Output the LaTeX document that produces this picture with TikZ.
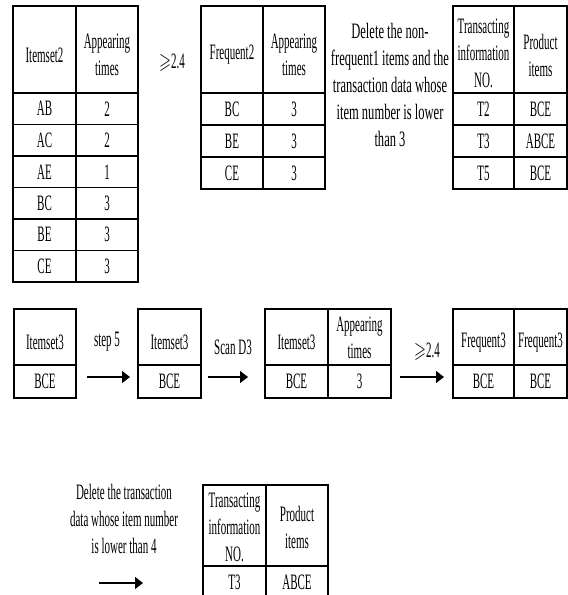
\documentclass[tikz,border=0pt]{standalone}
\usepackage{fontspec}
\usepackage{amssymb}
\usepackage{graphicx}
\setmainfont[FakeStretch=0.5]{Liberation Serif}
\newfontfamily\widefont[FakeStretch=0.57]{Liberation Serif}
\usetikzlibrary{arrows.meta}
\newcommand\mycell[6]{\node[cellbox, minimum width={(#4-#2)*1pt}, minimum height={(#5-#3)*1pt}] (#1) at ({(#2+#4)/2},{(#3+#5)/2}) {#6};}
\newcommand\myhead[7][5.5]{\node[cellbox, minimum width={(#5-#3)*1pt}, minimum height={(#6-#4)*1pt}] (#2) at ({(#3+#5)/2},{(#4+#6)/2}) {};
  \node[plain] (#2-t) at ({(#3+#5)/2},{(#4+#6)/2+#1}) {#7};}
\newcommand\geqs{\scalebox{0.7}[1]{$\geqslant$}}
\begin{document}
\begin{tikzpicture}[x=1pt,y=-1pt,
  cellbox/.style={draw, line width=1.3pt, inner sep=0pt, align=center, font=\fontsize{22}{27}\selectfont},
  plain/.style={inner sep=0pt, align=center, font=\fontsize{22}{27}\selectfont},
  flowarrow/.style={line width=1.4pt, -{Triangle[length=8pt,width=12pt]}}]
\useasboundingbox (0,0) rectangle (568,595);
\clip (0,0) rectangle (568,595);
% Table 1
\myhead{ah}{13}{6}{76}{93}{Itemset2}
\myhead{bh}{76}{6}{138}{93}{Appearing\\times}
\mycell{a1}{13}{93}{76}{124.5}{AB}
\mycell{b1}{76}{93}{138}{124.5}{2}
\mycell{a2}{13}{124.5}{76}{156}{AC}
\mycell{b2}{76}{124.5}{138}{156}{2}
\mycell{a3}{13}{156}{76}{187.5}{AE}
\mycell{b3}{76}{156}{138}{187.5}{1}
\mycell{a4}{13}{187.5}{76}{219}{BC}
\mycell{b4}{76}{187.5}{138}{219}{3}
\mycell{a5}{13}{219}{76}{250.5}{BE}
\mycell{b5}{76}{219}{138}{250.5}{3}
\mycell{a6}{13}{250.5}{76}{282}{CE}
\mycell{b6}{76}{250.5}{138}{282}{3}
\node[plain] (g1) at (172,63) {\geqs2.4};
% Table 2
\myhead{ch}{201}{6}{263}{93}{Frequent2}
\myhead{dh}{263}{6}{325}{93}{Appearing\\times}
\mycell{c1}{201}{93}{263}{125}{BC}
\mycell{d1}{263}{93}{325}{125}{3}
\mycell{c2}{201}{125}{263}{157}{BE}
\mycell{d2}{263}{125}{325}{157}{3}
\mycell{c3}{201}{157}{263}{189}{CE}
\mycell{d3}{263}{157}{325}{189}{3}
\node[plain, anchor=north, font=\widefont\fontsize{22}{27}\selectfont] (t1) at (390,23) {Delete the non-\\frequent1 items and the\\transaction data whose\\item number is lower\\than 3};
% Table 3
\myhead[4]{eh}{453}{6}{514}{93}{Transacting\\information\\NO.}
\myhead{fh}{514}{6}{567}{93}{Product\\items}
\mycell{e1}{453}{93}{514}{125}{T2}
\mycell{f1}{514}{93}{567}{125}{BCE}
\mycell{e2}{453}{125}{514}{157}{T3}
\mycell{f2}{514}{125}{567}{157}{ABCE}
\mycell{e3}{453}{157}{514}{189}{T5}
\mycell{f3}{514}{157}{567}{189}{BCE}
% Row 2
\myhead{p1h}{14}{309}{76}{365}{Itemset3}
\mycell{p1}{14}{365}{76}{398}{BCE}
\myhead{q1h}{138}{309}{201}{365}{Itemset3}
\mycell{q1}{138}{365}{201}{398}{BCE}
\myhead{r1h}{265}{309}{328}{365}{Itemset3}
\myhead[0.5]{s1h}{328}{309}{391}{365}{Appearing\\times}
\mycell{r1}{265}{365}{328}{398}{BCE}
\mycell{s1}{328}{365}{391}{398}{3}
\myhead{u1h}{453}{309}{514}{365}{Frequent3}
\myhead{v1h}{514}{309}{567}{365}{Frequent3}
\mycell{u1}{453}{365}{514}{398}{BCE}
\mycell{v1}{514}{365}{567}{398}{BCE}
\node[plain] (l1) at (107,342) {step 5};
\node[plain] (l2) at (233,347) {Scan D3};
\node[plain] (l3) at (427,352) {\geqs2.4};
\coordinate (a1s) at (87,377);
\coordinate (a1e) at (130,377);
\coordinate (a2s) at (208,377);
\coordinate (a2e) at (248,377);
\coordinate (a3s) at (400,377);
\coordinate (a3e) at (444,377);
\draw[flowarrow] (a1s) -- (a1e);
\draw[flowarrow] (a2s) -- (a2e);
\draw[flowarrow] (a3s) -- (a3e);
% Row 3
\node[plain, anchor=north] (t2) at (124,484) {Delete the transaction\\data whose item number\\is lower than 4};
\coordinate (a4s) at (99,583);
\coordinate (a4e) at (143,583);
\draw[flowarrow] (a4s) -- (a4e);
\myhead[1.5]{wh}{203}{485}{266}{566}{Transacting\\information\\NO.}
\myhead[1.5]{xh}{266}{485}{328}{566}{Product\\items}
\mycell{w1}{203}{566}{266}{599}{T3}
\mycell{x1}{266}{566}{328}{599}{ABCE}
\end{tikzpicture}
\end{document}
